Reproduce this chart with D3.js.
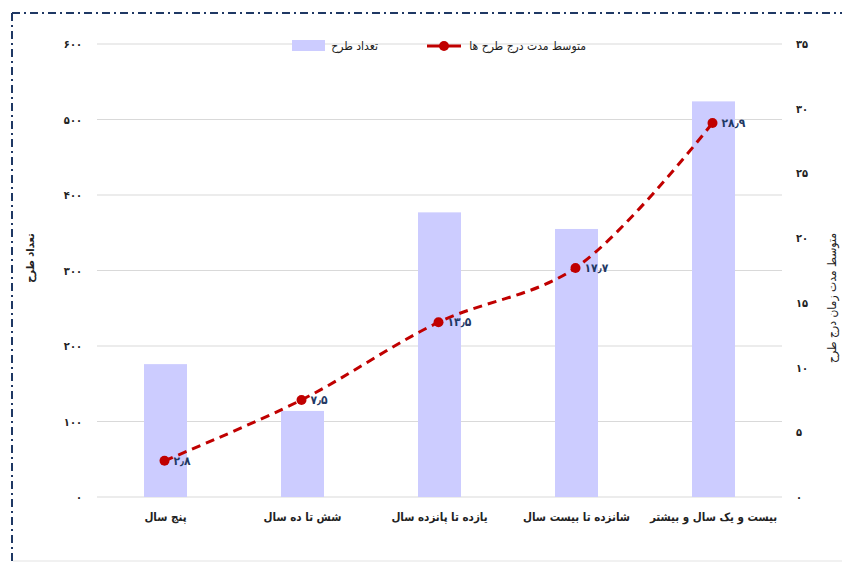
<!DOCTYPE html>
<html lang="fa">
<head>
<meta charset="utf-8">
<script src="https://cdn.jsdelivr.net/npm/d3@7"></script>
<style>
  body { margin: 0; background: #fff; }
  text { font-family: "DejaVu Sans Condensed", "DejaVu Sans", sans-serif; }
</style>
</head>
<body>
<div id="chart"></div>
<script>
const categories = ["پنج سال", "شش تا ده سال", "یازده تا پانزده سال", "شانزده تا بیست سال", "بیست و یک سال و بیشتر"];
const planCounts = [176, 114, 377, 355, 524];
const avgDuration = [2.8, 7.5, 13.5, 17.7, 28.9];
const leftTicks = [0, 100, 200, 300, 400, 500, 600];
const rightTicks = [0, 5, 10, 15, 20, 25, 30, 35];
const barSeriesName = "تعداد طرح";
const lineSeriesName = "متوسط مدت درج طرح ها";
const leftTitle = "تعداد طرح";
const rightTitle = "متوسط مدت زمان درج طرح";

const fa = s => String(s).replace(/\d/g, d => "۰۱۲۳۴۵۶۷۸۹"[d]).replace(".", "٫");

const width = 842, height = 563;
const margin = {left: 97, right: 60, top: 44, bottom: 66};

const svg = d3.select("#chart").append("svg")
  .attr("width", width).attr("height", height);

// frame
svg.append("line").attr("x1", 12).attr("x2", width).attr("y1", 13).attr("y2", 13)
  .attr("stroke", "#1f3864").attr("stroke-width", 2).attr("stroke-dasharray", "8,4,2,4");
svg.append("line").attr("x1", 12).attr("x2", 12).attr("y1", 13).attr("y2", height)
  .attr("stroke", "#1f3864").attr("stroke-width", 2).attr("stroke-dasharray", "8,4,2,4");
svg.append("line").attr("x1", 13).attr("x2", width).attr("y1", 561).attr("y2", 561)
  .attr("stroke", "#e3e3e3").attr("stroke-width", 1);

const x = d3.scaleBand()
  .domain(categories)
  .range([margin.left, width - margin.right])
  .paddingInner(0.686).paddingOuter(0.343);

const yL = d3.scaleLinear().domain([0, 600]).range([height - margin.bottom, margin.top]);
const yR = d3.scaleLinear().domain([0, 35]).range([height - margin.bottom, margin.top]);

// gridlines
svg.append("g")
  .selectAll("line")
  .data(leftTicks)
  .enter()
  .append("line")
  .attr("x1", margin.left).attr("x2", width - margin.right)
  .attr("y1", d => yL(d)).attr("y2", d => yL(d))
  .attr("stroke", "#d9d9d9").attr("stroke-width", 1);

// left axis
const axL = svg.append("g")
  .attr("transform", `translate(${margin.left - 15},0)`)
  .call(d3.axisLeft(yL).tickValues(leftTicks).tickSize(0).tickPadding(0).tickFormat(fa));
axL.select(".domain").remove();
axL.selectAll("text").style("font-size", "11px").attr("fill", "#222").attr("font-weight", "bold");

// right axis
const axR = svg.append("g")
  .attr("transform", `translate(${width - margin.right + 14},0)`)
  .call(d3.axisRight(yR).tickValues(rightTicks).tickSize(0).tickPadding(0).tickFormat(fa));
axR.select(".domain").remove();
axR.selectAll("text").style("font-size", "11px").attr("fill", "#222").attr("font-weight", "bold");

// bars
svg.selectAll("rect.bar")
  .data(planCounts)
  .enter()
  .append("rect")
  .attr("class", "bar")
  .attr("x", (d, i) => x(categories[i]))
  .attr("y", d => yL(d))
  .attr("width", x.bandwidth())
  .attr("height", d => yL(0) - yL(d))
  .attr("fill", "#ccccff");

// category labels
const axB = svg.append("g")
  .attr("transform", `translate(0,${height - margin.bottom + 16})`)
  .call(d3.axisBottom(x).tickSize(0).tickPadding(0));
axB.select(".domain").remove();
axB.selectAll("text").style("font-size", "11.5px").attr("font-weight", "bold").attr("fill", "#222");

// line
const cx = i => x(categories[i]) + x.bandwidth() / 2 - 1;
const line = d3.line()
  .x((d, i) => cx(i))
  .y(d => yR(d))
  .curve(d3.curveCatmullRom.alpha(0.5));

svg.append("path")
  .datum(avgDuration)
  .attr("d", line)
  .attr("fill", "none")
  .attr("stroke", "#c00000")
  .attr("stroke-width", 3)
  .attr("stroke-dasharray", "9,6");

svg.selectAll("circle.pt")
  .data(avgDuration)
  .enter()
  .append("circle")
  .attr("class", "pt")
  .attr("cx", (d, i) => cx(i))
  .attr("cy", d => yR(d))
  .attr("r", 5)
  .attr("fill", "#c00000");

svg.selectAll("text.lbl")
  .data(avgDuration)
  .enter()
  .append("text")
  .attr("class", "lbl")
  .attr("x", (d, i) => cx(i) + 9)
  .attr("y", d => yR(d) + 4)
  .attr("fill", "#1f3864")
  .style("font-size", "12px")
  .attr("font-weight", "bold")
  .text(d => fa(d));

// axis titles
svg.append("text")
  .attr("transform", "translate(34,258) rotate(-90)")
  .attr("text-anchor", "middle")
  .style("font-size", "11px").attr("font-weight", "bold").attr("fill", "#222")
  .text(leftTitle);
svg.append("text")
  .attr("transform", "translate(836,298) rotate(-90)")
  .attr("text-anchor", "middle")
  .style("font-size", "12px").attr("fill", "#222")
  .text(rightTitle);

// legend
const lg = svg.append("g");
lg.append("rect").attr("x", 292).attr("y", 40).attr("width", 33).attr("height", 11).attr("fill", "#ccccff");
lg.append("text").attr("x", 378).attr("y", 50).attr("text-anchor", "end")
  .style("font-size", "12px").attr("fill", "#222").text(barSeriesName);
lg.append("line").attr("x1", 427).attr("x2", 461).attr("y1", 46).attr("y2", 46)
  .attr("stroke", "#c00000").attr("stroke-width", 3);
lg.append("circle").attr("cx", 444).attr("cy", 46).attr("r", 5).attr("fill", "#c00000");
lg.append("text").attr("x", 586).attr("y", 50).attr("text-anchor", "end")
  .style("font-size", "12px").attr("fill", "#222").text(lineSeriesName);
</script>
</body>
</html>
